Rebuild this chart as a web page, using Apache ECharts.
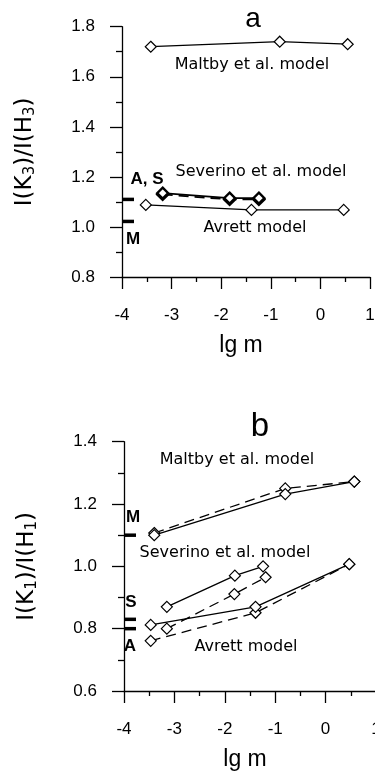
<!DOCTYPE html>
<html>
<head>
<meta charset="utf-8">
<script src="https://cdn.jsdelivr.net/npm/echarts@6/dist/echarts.min.js"></script>
<style>
  html, body { margin: 0; padding: 0; background: #fff; }
  #chart { width: 375px; height: 778px; }
</style>
</head>
<body>
<div id="chart"></div>
<script>
// panel a : I(K3)/I(H3) vs lg m
var maltbyAx = [-3.42, -0.82, 0.55];
var maltbyAy = [1.72, 1.74, 1.73];
var severinoAx = [-3.18, -1.83, -1.24];
var severinoAsolid = [1.135, 1.115, 1.115];
var severinoAdash = [1.13, 1.11, 1.11];
var avrettAx = [-3.52, -1.39, 0.47];
var avrettAy = [1.088, 1.068, 1.068];
var obsAlabels = ['A, S', 'M'];
var obsAvalues = [1.11, 1.022];

// panel b : I(K1)/I(H1) vs lg m
var maltbyBx = [-3.4, -0.8, 0.57];
var maltbyBsolid = [1.10, 1.232, 1.272];
var maltbyBdash = [1.107, 1.25, 1.272];
var severinoBxSolid = [-3.15, -1.8, -1.24];
var severinoBsolid = [0.87, 0.97, 1.0];
var severinoBxDash = [-3.15, -1.81, -1.19];
var severinoBdash = [0.80, 0.911, 0.965];
var avrettBx = [-3.47, -1.39, 0.47];
var avrettBsolid = [0.812, 0.87, 1.007];
var avrettBdash = [0.761, 0.851, 1.007];
var obsBlabels = ['M', 'S', 'A'];
var obsBvalues = [1.10, 0.83, 0.80];

var xTicks = { min: -4, max: 1, interval: 1 };

function pts(xs, ys) {
  return xs.map(function (x, i) { return [x, ys[i]]; });
}

function curve(xs, ys, gi, dashed, bold) {
  return {
    type: 'line',
    xAxisIndex: gi, yAxisIndex: gi,
    data: pts(xs, ys),
    symbol: 'diamond',
    symbolSize: 11,
    clip: false,
    itemStyle: { color: '#fff', borderColor: '#000', borderWidth: bold ? 2.4 : 1.2 },
    lineStyle: { color: '#000', width: bold ? 1.8 : 1.3, type: dashed ? [10, 6] : 'solid' },
    z: dashed ? 2 : 3
  };
}

// labelling of the observed values (short bars on the y axis)
var obsAOffsets = [[19, -4], [5, 2]];
var obsAPos = ['top', 'bottom'];
var obsBOffsets = [[3, -2], [1, -1], [0, 1]];
var obsBPos = ['top', 'top', 'bottom'];

function observed(labels, values, gi, pos, offs) {
  return {
    type: 'scatter',
    xAxisIndex: gi, yAxisIndex: gi,
    symbol: 'rect',
    symbolSize: [12, 3.5],
    symbolOffset: [6, 0],
    clip: false,
    itemStyle: { color: '#000', opacity: 1 },
    z: 5,
    data: values.map(function (v, i) {
      return {
        value: [-4, v],
        label: {
          show: true, formatter: labels[i], position: pos[i], offset: offs[i],
          distance: 6, fontFamily: 'Liberation Sans', fontWeight: 'bold', fontSize: 17, color: '#000'
        }
      };
    })
  };
}

function xAxisCfg(gi) {
  return {
    type: 'value', gridIndex: gi,
    min: xTicks.min, max: xTicks.max, interval: xTicks.interval,
    name: 'lg m', nameLocation: 'middle', nameGap: 57,
    nameTextStyle: { fontFamily: 'Liberation Sans', fontSize: 23, color: '#000', padding: [0, 10, 0, 0] },
    axisLine: { onZero: false, lineStyle: { color: '#000', width: 1.3 } },
    axisTick: { length: 12, lineStyle: { color: '#000', width: 1.3 } },
    minorTick: { show: true, splitNumber: 2, length: 5, lineStyle: { color: '#000', width: 1.3 } },
    axisLabel: { margin: 30, fontFamily: 'Liberation Sans', fontSize: 17, color: '#000', hideOverlap: false },
    splitLine: { show: false }
  };
}

function yAxisCfg(gi, min, max, rich) {
  return {
    type: 'value', gridIndex: gi,
    min: min, max: max, interval: 0.2,
    name: rich, nameLocation: 'middle', nameGap: 84,
    nameTextStyle: {
      fontFamily: 'DejaVu Sans', fontSize: 23, color: '#000',
      rich: { s: { fontFamily: 'DejaVu Sans', fontSize: 15, color: '#000', padding: [10, 0, 0, 0] } }
    },
    axisLine: { onZero: false, lineStyle: { color: '#000', width: 1.3 } },
    axisTick: { length: 12, lineStyle: { color: '#000', width: 1.3 } },
    minorTick: { show: true, splitNumber: 2, length: 6, lineStyle: { color: '#000', width: 1.3 } },
    axisLabel: {
      margin: 27, fontFamily: 'Liberation Sans', fontSize: 17, color: '#000',
      formatter: function (v) { return v.toFixed(1); }
    },
    splitLine: { show: false }
  };
}

function note(text, x, y, size, family) {
  return {
    type: 'text', x: x, y: y, z: 10,
    style: {
      text: text, align: 'center', verticalAlign: 'middle',
      fontSize: size, fontFamily: family || 'DejaVu Sans', fill: '#000'
    }
  };
}

var myChart = echarts.init(document.getElementById('chart'));
var option = {
  backgroundColor: '#fff',
  animation: false,
  grid: [
    { left: 122, top: 26.7, width: 248, height: 250.3, outerBoundsMode: 'none', containLabel: false },
    { left: 124, top: 441.7, width: 252, height: 249.3, outerBoundsMode: 'none', containLabel: false }
  ],
  xAxis: [xAxisCfg(0), xAxisCfg(1)],
  yAxis: [
    yAxisCfg(0, 0.8, 1.8, 'I(K{s|3})/I(H{s|3})'),
    yAxisCfg(1, 0.6, 1.4, 'I(K{s|1})/I(H{s|1})')
  ],
  graphic: [
    note('a', 253, 19, 28, 'Liberation Sans'),
    note('Maltby et al. model', 252, 65, 16),
    note('Severino et al. model', 261, 172, 16),
    note('Avrett model', 255, 228, 16),
    note('b', 260, 427, 33, 'Liberation Sans'),
    note('Maltby et al. model', 237, 460, 16),
    note('Severino et al. model', 225, 553, 16),
    note('Avrett model', 246, 647, 16)
  ],
  series: [
    curve(maltbyAx, maltbyAy, 0, false, false),
    curve(severinoAx, severinoAdash, 0, true, true),
    curve(severinoAx, severinoAsolid, 0, false, true),
    curve(avrettAx, avrettAy, 0, false, false),
    observed(obsAlabels, obsAvalues, 0, obsAPos, obsAOffsets),

    curve(maltbyBx, maltbyBdash, 1, true, false),
    curve(maltbyBx, maltbyBsolid, 1, false, false),
    curve(severinoBxDash, severinoBdash, 1, true, false),
    curve(severinoBxSolid, severinoBsolid, 1, false, false),
    curve(avrettBx, avrettBdash, 1, true, false),
    curve(avrettBx, avrettBsolid, 1, false, false),
    observed(obsBlabels, obsBvalues, 1, obsBPos, obsBOffsets)
  ]
};
myChart.setOption(option, true);
</script>
</body>
</html>
